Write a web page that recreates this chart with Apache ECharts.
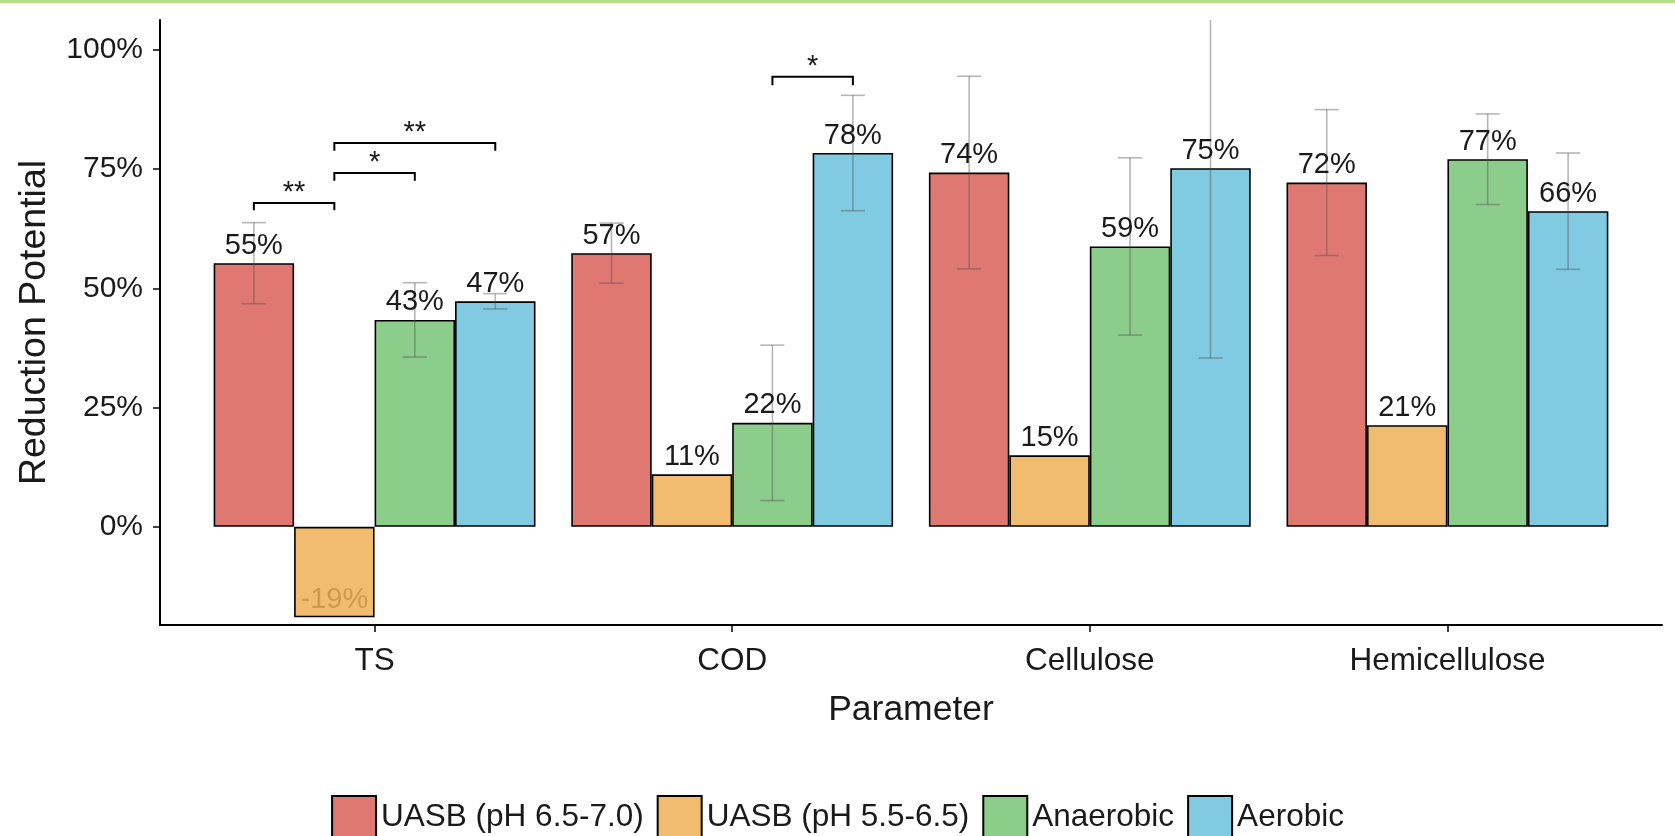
<!DOCTYPE html>
<html>
<head>
<meta charset="utf-8">
<script src="https://cdn.jsdelivr.net/npm/echarts@6/dist/echarts.min.js"></script>
<style>
html,body{margin:0;padding:0;background:#fff;}
#chart{width:1675px;height:836px;}
</style>
</head>
<body>
<div id="chart"></div>
<script>
// ---- data ----
const categories = ['TS', 'COD', 'Cellulose', 'Hemicellulose'];
const seriesNames = ['UASB (pH 6.5-7.0)', 'UASB (pH 5.5-6.5)', 'Anaerobic', 'Aerobic'];
const uasbNeutral = [55.3, 57.4, 74.3, 72.2];
const uasbAcid = [-19.0, 11.0, 15.0, 21.3];
const anaerobic = [43.4, 21.8, 58.8, 77.1];
const aerobic = [47.3, 78.4, 75.2, 66.2];
const uasbNeutralErr = [8.5, 6.3, 20.2, 15.3];
const uasbAcidErr = [null, null, null, null];
const anaerobicErr = [7.8, 16.3, 18.6, 9.5];
const aerobicErr = [1.6, 12.1, 39.8, 12.2];
const yTicks = [0, 25, 50, 75, 100];
// significance brackets: [category index, from series, to series, bracket level (%), tick end (%), label]
const brackets = [
  [0, 0, 1, 67.9, 66.4, '**'],
  [0, 1, 2, 74.2, 72.6, '*'],
  [0, 1, 3, 80.5, 78.9, '**'],
  [1, 2, 3, 94.4, 92.6, '*']
];

const values = [uasbNeutral, uasbAcid, anaerobic, aerobic];
const errors = [uasbNeutralErr, uasbAcidErr, anaerobicErr, aerobicErr];
const colors = ['#E07872', '#F2BC70', '#8DCD8B', '#80CAE2'];
const FONT = 'Liberation Sans, Arial, sans-serif';
const nS = seriesNames.length;

function barOffset(api, s) {
  const band = api.size([1, 0])[0];
  const bw = band * 0.9 / nS;
  return { bw: bw, off: (s - (nS - 1) / 2) * bw };
}

const series = [];
seriesNames.forEach((name, s) => {
  series.push({
    name: name,
    type: 'bar',
    data: values[s].map((v, i) => [i + 1, v]),
    barGap: '0%',
    barCategoryGap: '10%',
    itemStyle: { color: colors[s], borderColor: '#000', borderWidth: 1.6 },
    z: 2
  });
});
// error bars
seriesNames.forEach((name, s) => {
  series.push({
    type: 'custom',
    name: name + ' err',
    data: values[s].map((v, i) => [i + 1, v, errors[s][i]]),
    clip: true,
    z: 3,
    silent: true,
    renderItem: function (params, api) {
      const x = api.value(0), v = api.value(1), e = api.value(2);
      if (e === null || e === undefined || isNaN(e)) return null;
      const o = barOffset(api, s);
      const top = api.coord([x, v + e]);
      const bot = api.coord([x, v - e]);
      const cx = top[0] + o.off;
      const cap = o.bw * 0.15;
      const st = { stroke: 'rgba(80,80,80,0.42)', lineWidth: 1.6 };
      return {
        type: 'group',
        children: [
          { type: 'line', shape: { x1: cx, y1: top[1], x2: cx, y2: bot[1] }, style: st },
          { type: 'line', shape: { x1: cx - cap, y1: top[1], x2: cx + cap, y2: top[1] }, style: st },
          { type: 'line', shape: { x1: cx - cap, y1: bot[1], x2: cx + cap, y2: bot[1] }, style: st }
        ]
      };
    }
  });
});
// value labels
seriesNames.forEach((name, s) => {
  series.push({
    type: 'custom',
    name: name + ' lbl',
    data: values[s].map((v, i) => [i + 1, v]),
    z: 4,
    silent: true,
    renderItem: function (params, api) {
      const x = api.value(0), v = api.value(1);
      const o = barOffset(api, s);
      const p = api.coord([x, v]);
      return {
        type: 'text',
        x: p[0] + o.off,
        y: p[1] - 3,
        style: {
          text: Math.round(v) + '%',
          fontFamily: FONT,
          fontSize: 29,
          fill: v < 0 ? '#CF9A4E' : '#1a1a1a',
          align: 'center',
          verticalAlign: 'bottom'
        }
      };
    }
  });
});
// significance brackets
series.push({
  type: 'custom',
  name: 'sig',
  data: brackets,
  z: 5,
  silent: true,
  renderItem: function (params, api) {
    const c = api.value(0) + 1;
    const a = api.value(1), b = api.value(2);
    const lvl = api.value(3), tip = api.value(4);
    const lab = brackets[params.dataIndex][5];
    const oa = barOffset(api, a), ob = barOffset(api, b);
    const pL = api.coord([c, lvl]);
    const pT = api.coord([c, tip]);
    const xa = pL[0] + oa.off, xb = pL[0] + ob.off;
    const st = { stroke: '#000', lineWidth: 2, fill: null };
    return {
      type: 'group',
      children: [
        { type: 'polyline', shape: { points: [[xa, pT[1]], [xa, pL[1]], [xb, pL[1]], [xb, pT[1]]] }, style: st },
        { type: 'text', x: (xa + xb) / 2, y: pL[1] - 10, style: { text: lab, fontFamily: FONT, fontSize: 29, fill: '#1a1a1a', align: 'center', verticalAlign: 'middle' } }
      ]
    };
  }
});

const chart = echarts.init(document.getElementById('chart'), null, { renderer: 'canvas' });
chart.setOption({
  backgroundColor: '#fff',
  animation: false,
  textStyle: { fontFamily: FONT },
  graphic: [
    { type: 'rect', left: 0, top: 0, shape: { width: 1675, height: 3 }, style: { fill: '#B3DE87' }, z: 100 }
  ],
  grid: { left: 160, right: 13, top: 20, bottom: 211, containLabel: false },
  legend: {
    data: seriesNames,
    top: 790,
    left: 'center',
    itemWidth: 44,
    itemHeight: 42,
    itemGap: 13,
    icon: 'rect',
    textStyle: { fontFamily: FONT, fontSize: 31.5, color: '#1a1a1a' }
  },
  xAxis: {
    type: 'value',
    min: 0.4,
    max: 4.6,
    name: 'Parameter',
    nameLocation: 'middle',
    nameGap: 67,
    nameTextStyle: { fontFamily: FONT, fontSize: 35.5, color: '#1a1a1a' },
    axisLine: { onZero: false, lineStyle: { color: '#000', width: 2 } },
    axisTick: { show: true, length: 7, customValues: [1, 2, 3, 4], lineStyle: { color: '#000', width: 1.5 } },
    axisLabel: {
      customValues: [1, 2, 3, 4],
      formatter: v => categories[Math.round(v) - 1] || '',
      fontFamily: FONT, fontSize: 31.5, color: '#1a1a1a', margin: 20
    },
    splitLine: { show: false }
  },
  yAxis: {
    type: 'value',
    min: -20.6,
    max: 106.3,
    name: 'Reduction Potential',
    nameLocation: 'middle',
    nameGap: 106,
    nameRotate: 90,
    nameTextStyle: { fontFamily: FONT, fontSize: 37.5, color: '#1a1a1a' },
    axisLine: { show: true, lineStyle: { color: '#000', width: 2 } },
    axisTick: { show: true, length: 7, customValues: yTicks, lineStyle: { color: '#000', width: 1.5 } },
    axisLabel: {
      customValues: yTicks,
      formatter: '{value}%',
      fontFamily: FONT, fontSize: 30, color: '#1a1a1a', margin: 17
    },
    splitLine: { show: false }
  },
  series: series
});
</script>
</body>
</html>
